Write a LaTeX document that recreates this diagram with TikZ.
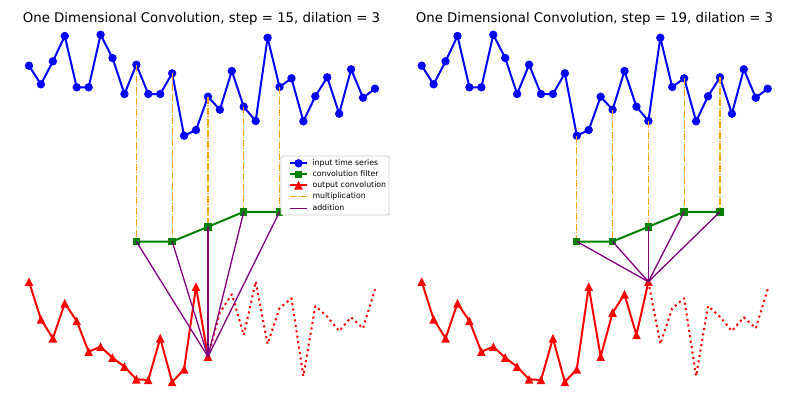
\documentclass[tikz,border=0pt]{standalone}
\usepackage{fontspec}
\setmainfont{DejaVu Sans}
\definecolor{mplorange}{HTML}{FFA500}
\definecolor{mplgreen}{HTML}{008000}
\definecolor{mplpurple}{HTML}{800080}
\begin{document}
\begin{tikzpicture}[x=1pt,y=-1pt,line join=round,
  inp/.style={blue,line width=2pt},
  filt/.style={mplgreen,line width=2pt},
  outp/.style={red,line width=2pt},
  dotline/.style={dash pattern=on 2.1pt off 3.4pt},
  mult/.style={mplorange,line width=1.1pt,dash pattern=on 7pt off 1.5pt on 1pt off 1.5pt},
  add/.style={mplpurple,line width=1.3pt},
  ttl/.style={anchor=base,font=\fontsize{13.3}{16}\selectfont},
  legtxt/.style={anchor=west,inner sep=0pt,text height=5.6pt,text depth=1.6pt,font=\fontsize{7.8}{9.3}\selectfont}]
  \useasboundingbox (0,0) rectangle (797,399);
  % data points, left and right panel
  \foreach \v [count=\i from 0] in {65.7,84.3,61.3,36,87.3,87.3,34.7,58,94,64.7,94,94,73.3,135.7,130,96.7,109.7,71,106.7,121,37.7,87,78.3,121.3,96.3,77.3,113.7,69.3,97.7,88.7} {
    \coordinate (li\i) at ({29+11.93*\i},\v);
    \coordinate (ri\i) at ({421.7+11.93*\i},\v);
  }
  \foreach \v [count=\i from 0] in {281.7,319.3,338.3,303.3,321,351.7,346.7,357.7,366.7,379.3,380,338.3,382,369.3,286.7,356.7,312.7,294.3,335,281.7,344,308.3,298.3,376,306,316.7,331,317.3,328.3,289.3} {
    \coordinate (lo\i) at ({29+11.93*\i},\v);
    \coordinate (ro\i) at ({421.7+11.93*\i},\v);
  }
  \foreach \t/\v [count=\k] in {9/241.5,12/241.5,15/226.8,18/211.8,21/211.8}
    \coordinate (lf\k) at (li\t |- 0,\v);
  \foreach \t/\v [count=\k] in {13/241.5,16/241.5,19/226.8,22/211.8,25/211.8}
    \coordinate (rf\k) at (ri\t |- 0,\v);

  % titles
  \node[ttl] (ltitle) at (201.5,22.7) {One Dimensional Convolution, step = 15, dilation = 3};
  \node[ttl] (rtitle) at (594.5,22.7) {One Dimensional Convolution, step = 19, dilation = 3};

  % input time series
  \draw[inp] (li0) \foreach \i in {1,...,29}{ -- (li\i)};
  \draw[inp] (ri0) \foreach \i in {1,...,29}{ -- (ri\i)};
  \foreach \i in {0,...,29} {
    \fill[blue] (li\i) circle (4.2);
    \fill[blue] (ri\i) circle (4.2);
  }

  % output convolution
  \draw[outp] (lo0) \foreach \i in {1,...,15}{ -- (lo\i)};
  \draw[outp,dotline] (lo15) \foreach \i in {16,...,29}{ -- (lo\i)};
  \draw[outp] (ro0) \foreach \i in {1,...,19}{ -- (ro\i)};
  \draw[outp,dotline] (ro19) \foreach \i in {20,...,29}{ -- (ro\i)};
  \foreach \i in {0,...,15}
    \fill[red,shift={(lo\i)}] (0,-4.4) -- (4.3,4.2) -- (-4.3,4.2) -- cycle;
  \foreach \i in {0,...,19}
    \fill[red,shift={(ro\i)}] (0,-4.4) -- (4.3,4.2) -- (-4.3,4.2) -- cycle;

  % multiplication
  \foreach \t [count=\k] in {9,12,15,18,21} \draw[mult] (li\t) -- (lf\k);
  \foreach \t [count=\k] in {13,16,19,22,25} \draw[mult] (ri\t) -- (rf\k);

  % convolution filter
  \draw[filt] (lf1) -- (lf2) -- (lf3) -- (lf4) -- (lf5);
  \draw[filt] (rf1) -- (rf2) -- (rf3) -- (rf4) -- (rf5);
  \foreach \k in {1,...,5} {
    \fill[mplgreen,shift={(lf\k)}] (-3.7,-3.7) rectangle (3.7,3.7);
    \fill[mplgreen,shift={(rf\k)}] (-3.7,-3.7) rectangle (3.7,3.7);
  }

  % addition
  \foreach \k in {1,...,5} {
    \draw[add] (lf\k) -- (lo15);
    \draw[add] (rf\k) -- (ro19);
  }

  % legend
  \draw[black!20,fill=white,rounded corners=2pt,line width=.8pt] (281,156) rectangle (389,215);
  \coordinate (h1) at (298.5,163.3);
  \coordinate (h2) at (298.5,174.3);
  \coordinate (h3) at (298.5,185.3);
  \coordinate (h4) at (298.5,196.7);
  \coordinate (h5) at (298.5,208.3);
  \draw[inp] ([xshift=-8.5pt]h1) -- ([xshift=8.5pt]h1);
  \fill[blue] (h1) circle (4.2);
  \draw[filt] ([xshift=-8.5pt]h2) -- ([xshift=8.5pt]h2);
  \fill[mplgreen,shift={(h2)}] (-3.7,-3.7) rectangle (3.7,3.7);
  \draw[outp] ([xshift=-8.5pt]h3) -- ([xshift=8.5pt]h3);
  \fill[red,shift={(h3)}] (0,-4.4) -- (4.3,4.2) -- (-4.3,4.2) -- cycle;
  \draw[mult,line width=1.4pt] ([xshift=-8.5pt]h4) -- ([xshift=8.5pt]h4);
  \draw[add] ([xshift=-8.5pt]h5) -- ([xshift=8.5pt]h5);
  \node[legtxt] (leg1) at (312.3,163.3) {input time series};
  \node[legtxt] (leg2) at (312.3,174.3) {convolution filter};
  \node[legtxt] (leg3) at (312.3,185.3) {output convolution};
  \node[legtxt] (leg4) at (312.3,196.7) {multiplication};
  \node[legtxt] (leg5) at (312.3,208.3) {addition};
\end{tikzpicture}
\end{document}
